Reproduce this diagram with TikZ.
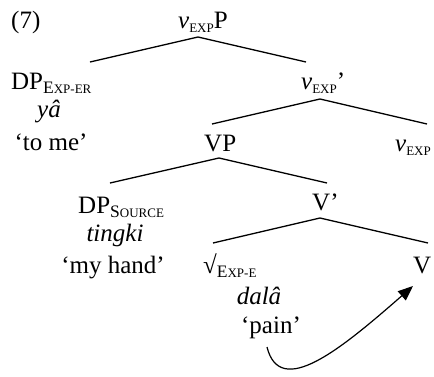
\documentclass[tikz,border=0pt]{standalone}
\usepackage{fontspec}
\setmainfont{Liberation Serif}
\usetikzlibrary{arrows.meta}

% feature subscripts, set as faked small capitals
\newcommand{\feat}[2]{\raisebox{-4pt}{\fontsize{17.5}{17}\selectfont #1\fontsize{13}{13}\selectfont #2}}

\begin{document}
\begin{tikzpicture}[
    x=1pt,y=-1pt,
    lab/.style={inner sep=0pt,font=\fontsize{25}{30}\selectfont},
    branch/.style={draw=black,line width=1.3pt},
    move/.style={-{Triangle[length=15pt,width=12pt]},line width=1.2pt},
  ]
    \useasboundingbox (0,0) rectangle (434,376);
    % labels, placed on their baselines
    \node[lab,anchor=base west] (num) at (11,28) {(7)};
    \node[lab,anchor=base west] (vP) at (178,28) {\textit{v}\feat{}{EXP}P};
    \node[lab,anchor=base west] (DPer) at (11,89) {DP\feat{E}{XP-ER}};
    \node[lab,anchor=base] (ya) at (49,117) {\textit{yâ}};
    \node[lab,anchor=base] (tome) at (51,150) {‘to me’};
    \node[lab,anchor=base west] (vbar) at (301,89) {\textit{v}\feat{}{EXP}’};
    \node[lab,anchor=base west] (VP) at (204,151) {VP};
    \node[lab,anchor=base west] (vhead) at (395,151) {\textit{v}\feat{}{EXP}};
    \node[lab,anchor=base west] (DPsrc) at (78,213) {DP\feat{S}{OURCE}};
    \node[lab,anchor=base] (tingki) at (115,241) {\textit{tingki}};
    \node[lab,anchor=base] (hand) at (113,273) {‘my hand’};
    \node[lab,anchor=base west] (Vbar) at (312,210) {V’};
    \node[lab,anchor=base west] (root) at (203,273) {√\feat{E}{XP-E}};
    \node[lab,anchor=base] (dala) at (259,304) {\textit{dalâ}};
    \node[lab,anchor=base] (pain) at (271,333) {‘pain’};
    \node[lab,anchor=base west] (V) at (413,273) {V};
    % branching points and branch ends
    \coordinate (vP-b) at (198,37);
    \coordinate (DPer-t) at (90,62);
    \coordinate (vbar-t) at (306,62);
    \coordinate (vbar-b) at (320,99);
    \coordinate (VP-t) at (212,124);
    \coordinate (vhead-t) at (427,124);
    \coordinate (VP-b) at (219,158);
    \coordinate (DPsrc-t) at (110,183);
    \coordinate (Vbar-t) at (327,183);
    \coordinate (Vbar-b) at (320,218);
    \coordinate (root-t) at (213,243);
    \coordinate (V-t) at (428,243);
    \draw[branch] (DPer-t) -- (vP-b) -- (vbar-t);
    \draw[branch] (VP-t) -- (vbar-b) -- (vhead-t);
    \draw[branch] (DPsrc-t) -- (VP-b) -- (Vbar-t);
    \draw[branch] (root-t) -- (Vbar-b) -- (V-t);
    % head movement of the root up to V
    \coordinate (pain-f) at (267,347);
    \coordinate (V-f) at (413,286);
    \draw[move] (pain-f) .. controls +(13,52) and +(-73,64) .. (V-f);
  \end{tikzpicture}
\end{document}
